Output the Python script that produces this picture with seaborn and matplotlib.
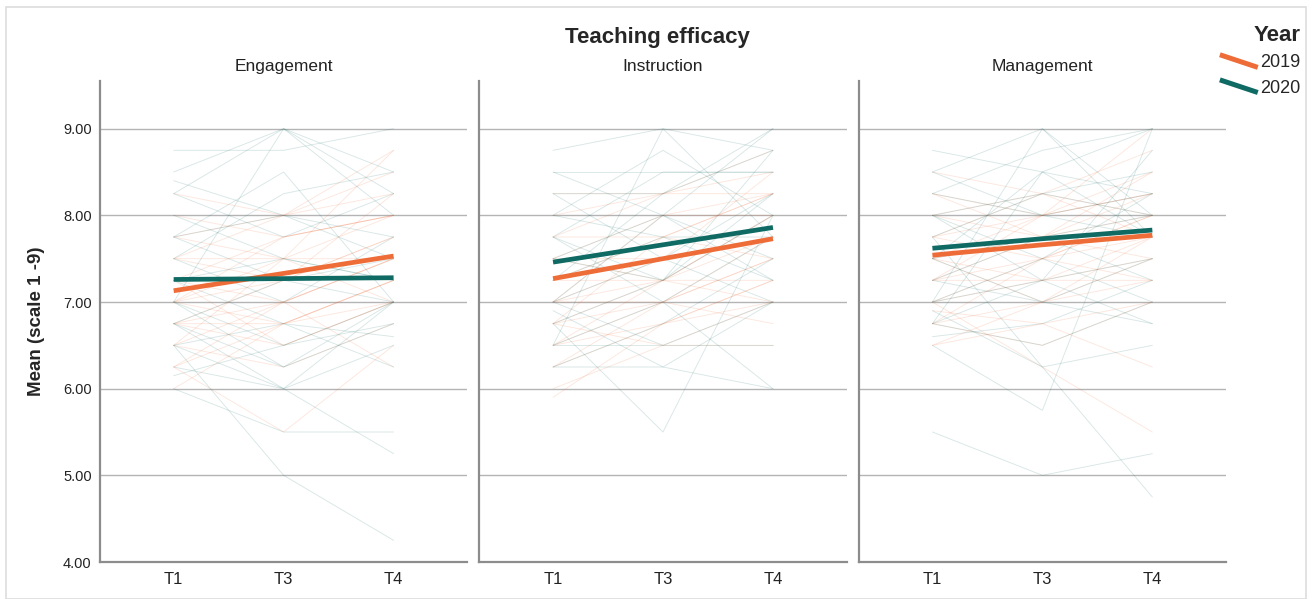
import numpy as np
import pandas as pd
import matplotlib
matplotlib.use("Agg")
import matplotlib.pyplot as plt
import seaborn as sns
from matplotlib.lines import Line2D
from matplotlib.patches import Rectangle
from matplotlib.legend_handler import HandlerBase

# Time points and facets
times = ["T1", "T3", "T4"]
panels = ["Engagement", "Instruction", "Management"]
years = ["2019", "2020"]
colors = {"2019": "#EE6C37", "2020": "#0F6A63"}

# Group means (T1, T3, T4)
mean_eng_2019 = [7.13, 7.33, 7.53]
mean_eng_2020 = [7.26, 7.27, 7.28]
mean_ins_2019 = [7.27, 7.50, 7.73]
mean_ins_2020 = [7.46, 7.66, 7.86]
mean_man_2019 = [7.54, 7.66, 7.77]
mean_man_2020 = [7.62, 7.73, 7.83]

# Individual teacher trajectories (T1, T3, T4), estimated from the faint lines
eng_2019 = [
    [7.00, 7.50, 8.75], [6.75, 7.25, 8.25], [7.25, 7.75, 8.00], [7.50, 7.25, 7.75],
    [6.50, 7.00, 7.50], [7.00, 6.75, 7.25], [6.25, 6.75, 7.00], [7.75, 8.00, 8.25],
    [8.00, 7.75, 8.00], [6.75, 6.50, 7.00], [7.25, 7.00, 7.50], [6.50, 6.25, 6.75],
    [7.50, 8.00, 8.50], [6.00, 6.75, 7.25], [7.00, 7.25, 7.75], [7.75, 7.50, 7.50],
    [6.25, 5.50, 6.50], [6.75, 7.00, 6.25], [7.25, 6.50, 7.00], [8.25, 8.00, 8.75],
    [6.50, 7.50, 7.00], [7.00, 7.75, 8.00], [6.75, 6.75, 7.25], [7.50, 7.50, 8.00],
    [6.25, 7.00, 7.50],
]
eng_2020 = [
    [8.75, 8.75, 9.00], [8.50, 9.00, 8.00], [8.25, 9.00, 8.50], [7.00, 9.00, 8.25],
    [8.40, 8.00, 7.75], [8.25, 7.75, 8.25], [7.75, 8.50, 7.00], [7.50, 7.00, 7.75],
    [7.25, 7.50, 7.25], [7.00, 6.50, 6.75], [6.75, 6.25, 7.00], [6.50, 5.00, 4.25],
    [6.00, 5.50, 5.50], [6.75, 6.00, 5.25], [6.25, 6.00, 6.50], [7.75, 7.25, 7.00],
    [6.50, 6.75, 6.25], [7.25, 6.75, 6.60], [6.15, 6.50, 7.00], [7.50, 8.25, 8.50],
    [8.00, 7.50, 7.25], [6.75, 7.25, 7.50], [7.00, 6.25, 6.75], [7.75, 8.00, 7.50],
    [6.50, 6.00, 7.00],
]
ins_2019 = [
    [7.00, 7.50, 7.75], [6.75, 7.25, 8.00], [7.25, 7.75, 8.25], [7.50, 8.00, 8.00],
    [6.50, 7.00, 7.50], [7.00, 7.25, 7.25], [6.25, 6.75, 7.00], [7.75, 8.25, 8.25],
    [8.00, 8.25, 8.50], [6.75, 7.00, 7.50], [7.25, 7.50, 7.75], [6.50, 6.75, 7.25],
    [7.50, 7.25, 8.00], [6.00, 6.50, 7.00], [7.00, 7.00, 7.75], [7.75, 7.75, 8.25],
    [6.25, 7.00, 6.75], [6.75, 6.50, 6.50], [7.25, 7.25, 7.00], [8.25, 8.25, 8.75],
    [6.50, 7.25, 7.75], [7.00, 8.00, 8.25], [5.90, 6.75, 7.25], [7.50, 7.50, 8.50],
    [6.75, 7.75, 7.50],
]
ins_2020 = [
    [8.75, 9.00, 8.75], [8.50, 8.00, 9.00], [8.25, 8.25, 8.75], [8.00, 8.75, 8.00],
    [7.75, 8.50, 8.50], [6.50, 9.00, 7.75], [7.50, 7.25, 8.25], [7.25, 7.75, 7.75],
    [7.00, 6.50, 7.00], [6.75, 5.50, 8.00], [6.50, 6.50, 6.50], [6.25, 6.25, 6.00],
    [7.75, 7.00, 6.00], [8.00, 7.75, 7.25], [6.75, 7.25, 8.00], [7.00, 7.50, 8.25],
    [7.50, 8.00, 7.50], [6.90, 6.25, 7.00], [8.25, 7.50, 7.00], [7.25, 8.25, 9.00],
    [6.50, 7.00, 7.75], [8.50, 8.50, 8.50], [7.75, 7.25, 8.75], [7.00, 8.00, 7.25],
    [6.25, 6.75, 7.50],
]
man_2019 = [
    [7.50, 7.75, 8.00], [7.25, 7.50, 7.75], [7.75, 8.00, 8.25], [8.00, 8.25, 8.00],
    [7.00, 7.25, 7.50], [6.75, 7.00, 7.50], [8.25, 8.00, 8.50], [7.50, 7.25, 7.25],
    [6.50, 7.00, 7.25], [7.25, 7.75, 7.50], [8.00, 7.75, 8.25], [6.75, 6.50, 7.00],
    [7.75, 7.50, 8.00], [7.00, 6.25, 5.50], [6.90, 6.75, 6.25], [7.50, 8.00, 9.00],
    [8.50, 8.25, 8.75], [7.25, 7.25, 7.75], [6.75, 7.50, 8.00], [7.75, 8.25, 7.75],
    [7.00, 7.50, 7.25], [8.25, 7.75, 8.50], [7.50, 7.00, 7.75], [6.50, 6.75, 7.00],
    [7.25, 8.00, 8.25],
]
man_2020 = [
    [8.75, 8.50, 8.25], [8.50, 9.00, 8.00], [7.00, 9.00, 7.75], [8.25, 8.75, 9.00],
    [6.75, 8.50, 9.00], [8.00, 7.50, 7.00], [7.75, 8.25, 8.50], [7.50, 7.75, 7.25],
    [7.25, 7.00, 7.50], [6.75, 6.50, 7.00], [6.50, 5.75, 9.00], [5.50, 5.00, 5.25],
    [7.75, 6.25, 4.75], [7.00, 7.25, 6.75], [8.25, 8.00, 8.25], [6.90, 6.25, 6.50],
    [7.50, 8.50, 7.75], [8.00, 7.25, 8.75], [7.25, 7.75, 8.00], [6.75, 7.25, 7.50],
    [8.50, 8.00, 7.75], [7.50, 7.00, 6.75], [7.00, 7.50, 8.25], [6.60, 6.75, 7.25],
    [8.00, 8.25, 8.00],
]

individual = {
    ("Engagement", "2019"): eng_2019, ("Engagement", "2020"): eng_2020,
    ("Instruction", "2019"): ins_2019, ("Instruction", "2020"): ins_2020,
    ("Management", "2019"): man_2019, ("Management", "2020"): man_2020,
}
means = {
    ("Engagement", "2019"): mean_eng_2019, ("Engagement", "2020"): mean_eng_2020,
    ("Instruction", "2019"): mean_ins_2019, ("Instruction", "2020"): mean_ins_2020,
    ("Management", "2019"): mean_man_2019, ("Management", "2020"): mean_man_2020,
}

# Long-format tables
rows = []
for (panel, year), traj in individual.items():
    for i, vals in enumerate(traj):
        for t, v in zip(times, vals):
            rows.append({"panel": panel, "year": year, "id": f"{year}_{i}", "time": t, "value": v})
df = pd.DataFrame(rows)

mrows = []
for (panel, year), vals in means.items():
    for t, v in zip(times, vals):
        mrows.append({"panel": panel, "year": year, "time": t, "value": v})
mdf = pd.DataFrame(mrows)

sns.set_style("white")
plt.rcParams["font.family"] = ["Liberation Sans", "DejaVu Sans"]

fig, axes = plt.subplots(1, 3, figsize=(13.13, 5.99), dpi=100, sharey=True)
fig.subplots_adjust(left=100 / 1313, right=1226 / 1313, bottom=1 - 562 / 599,
                    top=1 - 81 / 599, wspace=0.033)

for ax, panel in zip(axes, panels):
    sub = df[df["panel"] == panel]
    sns.lineplot(data=sub, x="time", y="value", hue="year", units="id",
                 estimator=None, palette=colors, lw=0.65, alpha=0.16,
                 legend=False, sort=False, ax=ax)
    msub = mdf[mdf["panel"] == panel]
    sns.lineplot(data=msub, x="time", y="value", hue="year", palette=colors,
                 lw=3.4, legend=False, sort=False, ax=ax,
                 solid_capstyle="butt")
    ax.set_xlim(-0.67, 2.67)
    ax.set_ylim(4, 9.55)
    ax.set_yticks([4, 5, 6, 7, 8, 9])
    ax.yaxis.set_major_formatter(matplotlib.ticker.StrMethodFormatter("{x:.2f}"))
    ax.grid(axis="y", color="#b4b4b4", lw=1.0)
    ax.set_axisbelow(True)
    ax.tick_params(axis="y", length=0, labelsize=10.5, colors="#222222", pad=6)
    ax.tick_params(axis="x", length=0, labelsize=12, colors="#222222", pad=7)
    ax.set_xlabel("")
    ax.set_ylabel("")
    ax.set_title(panel, fontsize=12.5, pad=7, color="#222222")
    for side in ["top", "right"]:
        ax.spines[side].set_visible(False)
    for side in ["left", "bottom"]:
        ax.spines[side].set_color("#8c8c8c")
        ax.spines[side].set_linewidth(1.6)

axes[0].set_ylabel("Mean (scale 1 -9)", fontsize=13.5, fontweight="bold", labelpad=13)

fig.text(657 / 1313, 1 - 38 / 599, "Teaching efficacy", ha="center", va="center",
         fontsize=16, fontweight="bold")

# Legend with slanted line handles
class SlantHandler(HandlerBase):
    def create_artists(self, legend, orig_handle, xdescent, ydescent, width, height,
                       fontsize, trans):
        line = Line2D([-xdescent, -xdescent + width],
                      [-ydescent + height * 1.0, -ydescent + height * 0.0],
                      color=orig_handle.get_color(), lw=orig_handle.get_linewidth(),
                      solid_capstyle="butt", transform=trans)
        return [line]

handles = [Line2D([], [], color=colors[y], lw=3.6) for y in years]
leg = fig.legend(handles, years, title="Year", loc="upper right",
                 bbox_to_anchor=(1317 / 1313, 1 - 9 / 599), frameon=False,
                 fontsize=13, title_fontsize=16, handlelength=2.1,
                 handletextpad=0.15, labelspacing=0.45,
                 handler_map={Line2D: SlantHandler()})
leg.get_title().set_fontweight("bold")
leg._legend_box.align = "right"

# Light outer frame
fig.patches.append(Rectangle((6 / 1313, 0), 1300 / 1313, 1 - 7 / 599,
                             transform=fig.transFigure, fill=False,
                             edgecolor="#dddddd", lw=1.2))

fig.savefig("out.png", dpi=100)
